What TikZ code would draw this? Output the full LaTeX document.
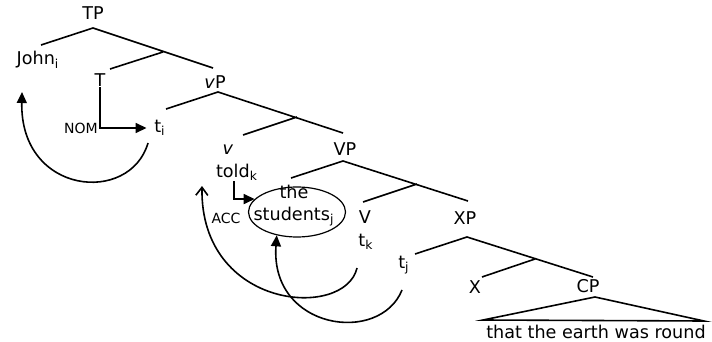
\documentclass[tikz,border=0pt]{standalone}
\usepackage{fontspec}
\setmainfont{DejaVu Sans}
\usetikzlibrary{arrows.meta,shapes.geometric}
\newcommand{\sub}[1]{\textsubscript{#1}}

\begin{document}
\begin{tikzpicture}[x=0.5pt,y=-0.5pt,line width=0.8pt,
 font=\fontsize{8.8}{11}\selectfont,
 lbl/.style={inner sep=0pt},
 casemark/.style={inner sep=0pt,font=\fontsize{7}{8}\selectfont},
 mv/.style={-{Triangle[length=5.5pt,width=5pt]}},
 mvopen/.style={-{Straight Barb[length=4pt,width=6pt]}}]
\useasboundingbox (0,0) rectangle (712,342);
% labels of the tree
\node[lbl] (TP) at (93,13) {TP};
\node[lbl] (John) at (38,60) {John\sub{i}};
\node[lbl] (T) at (100,80) {T};
\node[lbl] (vP) at (215,82) {\textit{v}P};
\node[lbl] (ti) at (160,128) {t\sub{i}};
\node[casemark] (NOM) at (81,128) {NOM};
\node[lbl] (v) at (228,150) {\textit{v}};
\node[lbl] (told) at (237,172) {told\sub{k}};
\node[lbl] (VP) at (345,149) {VP};
\node[lbl,align=center] (DP) at (294,206) {the\\students\sub{j}};
\node[draw,ellipse,line width=0.6pt,inner sep=0pt,minimum width=48.5pt,minimum height=25pt] (ring) at (297,212) {};
\node[casemark] (ACC) at (226,218) {ACC};
\node[lbl] (V) at (365,217) {V};
\node[lbl] (tk) at (366,242) {t\sub{k}};
\node[lbl] (XP) at (465,218) {XP};
\node[lbl] (tj) at (404,265) {t\sub{j}};
\node[lbl] (X) at (475,287) {X};
\node[lbl] (CP) at (588,286) {CP};
\node[lbl] (clause) at (596,332) {that the earth was round};
% branching points
\coordinate (tp) at (93,28);   \coordinate (tpl) at (41,45);   \coordinate (tpr) at (213,68);
\coordinate (tb) at (163,52);  \coordinate (tbl) at (110,69);
\coordinate (vp) at (218,92);  \coordinate (vpl) at (166,109); \coordinate (vpr) at (343,133);
\coordinate (vb) at (297,117); \coordinate (vbl) at (243,135);
\coordinate (VPt) at (343,161); \coordinate (VPl) at (291,178); \coordinate (VPr) at (468,201);
\coordinate (Vb) at (417,184); \coordinate (Vbl) at (363,202);
\coordinate (xp) at (467,237); \coordinate (xpl) at (415,254); \coordinate (xpr) at (593,277);
\coordinate (xb) at (535,259); \coordinate (xbl) at (482,277);
\coordinate (cp) at (595,297); \coordinate (cpl) at (483,320); \coordinate (cpr) at (704,321);
\draw (tpl) -- (tp) -- (tpr) (tb) -- (tbl);
\draw (vpl) -- (vp) -- (vpr) (vb) -- (vbl);
\draw (VPl) -- (VPt) -- (VPr) (Vb) -- (Vbl);
\draw (xpl) -- (xp) -- (xpr) (xb) -- (xbl);
\draw (cp) -- (cpl) -- (cpr) -- cycle;
% case assignment
\draw[mv] (T) |- ([xshift=-3.5pt]ti.west);
\draw[mv] ([xshift=-1.5pt]told.south) |- (ring.163);
% movement
\coordinate (tiout) at (148,143); \coordinate (Johnin) at (22,92);
\coordinate (tkout) at (357,268); \coordinate (toldin) at (202,186);
\coordinate (tjout) at (402,290);
\draw[mv] (tiout) .. controls (130,205) and (20,195) .. (Johnin);
\draw[mvopen] (tkout) .. controls (345,320) and (200,310) .. (toldin);
\draw[mv] (tjout) .. controls (380,345) and (270,330) .. (ring.229);
\end{tikzpicture}
\end{document}
